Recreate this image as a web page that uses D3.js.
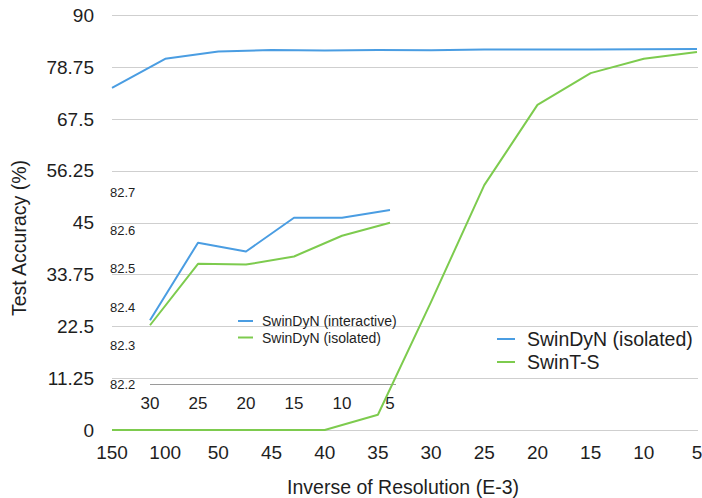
<!DOCTYPE html>
<html>
<head>
<meta charset="utf-8">
<script src="https://cdn.jsdelivr.net/npm/d3@7/dist/d3.min.js"></script>
<style>
  html, body { margin: 0; padding: 0; background: #fff; }
  svg { display: block; font-family: "Liberation Sans", Arial, Helvetica, sans-serif; }
</style>
</head>
<body>
<script>
// ---- data ----
const categories = ["150","100","50","45","40","35","30","25","20","15","10","5"];
const swinDyNIsolated = [74.2, 80.5, 82.1, 82.4, 82.3, 82.4, 82.35, 82.51, 82.51, 82.53, 82.57, 82.6];
const swinTS = [0, 0, 0, 0, 0, 3.3, 27.8, 53.1, 70.5, 77.4, 80.5, 82.0];
const yTicks = [0, 11.25, 22.5, 33.75, 45, 56.25, 67.5, 78.75, 90];

const insetCategories = ["30","25","20","15","10","5"];
const insetInteractive = [82.366, 82.568, 82.545, 82.633, 82.633, 82.653];
const insetIsolated = [82.353, 82.513, 82.511, 82.532, 82.586, 82.62];
const insetTicks = [82.2, 82.3, 82.4, 82.5, 82.6, 82.7];

const mainSeries = [
  { name: "SwinDyN (isolated)", values: swinDyNIsolated, color: "#4a9de2" },
  { name: "SwinT-S", values: swinTS, color: "#7dcb4e" }
];
const insetSeries = [
  { name: "SwinDyN (interactive)", values: insetInteractive, color: "#4a9de2" },
  { name: "SwinDyN (isolated)", values: insetIsolated, color: "#7dcb4e" }
];

// ---- layout ----
const W = 702, H = 498;
const svg = d3.select("body").append("svg").attr("width", W).attr("height", H);

const x = d3.scalePoint().domain(categories).range([112, 697]);
const y = d3.scaleLinear().domain([0, 90]).range([430, 15]);

const xi = d3.scalePoint().domain(insetCategories).range([150, 390]);
const yi = d3.scaleLinear().domain([82.2, 82.7]).range([384, 192]);

const textColor = "#1e1e1e";

// main gridlines
svg.append("g").selectAll("line").data(yTicks).join("line")
  .attr("x1", 112).attr("x2", 698)
  .attr("y1", d => Math.round(y(d)) + 0.5).attr("y2", d => Math.round(y(d)) + 0.5)
  .attr("stroke", "#cfcfcf").attr("stroke-width", 1);

// main y tick labels
svg.append("g").selectAll("text").data(yTicks).join("text")
  .attr("x", 94).attr("y", d => y(d))
  .attr("dy", "0.36em").attr("text-anchor", "end")
  .attr("font-size", 19).attr("fill", textColor)
  .text(d => String(d));

// main x tick labels
svg.append("g").selectAll("text").data(categories).join("text")
  .attr("x", d => x(d)).attr("y", 452)
  .attr("dy", "0.36em").attr("text-anchor", "middle")
  .attr("font-size", 19).attr("fill", textColor)
  .text(d => d);

// axis titles
svg.append("text")
  .attr("transform", "translate(26,238) rotate(-90)")
  .attr("text-anchor", "middle").attr("font-size", 19.5).attr("fill", textColor)
  .text("Test Accuracy (%)");
svg.append("text")
  .attr("x", 403).attr("y", 494)
  .attr("text-anchor", "middle").attr("font-size", 19.5).attr("fill", textColor)
  .text("Inverse of Resolution (E-3)");

// ---- inset ----
// inset baseline
svg.append("line")
  .attr("x1", 150).attr("x2", 396)
  .attr("y1", Math.round(yi(82.2)) + 0.5).attr("y2", Math.round(yi(82.2)) + 0.5)
  .attr("stroke", "#9a9a9a").attr("stroke-width", 1);

// inset y tick labels
svg.append("g").selectAll("text").data(insetTicks).join("text")
  .attr("x", 110).attr("y", d => yi(d))
  .attr("dy", "0.36em").attr("text-anchor", "start")
  .attr("font-size", 13).attr("fill", textColor)
  .text(d => d.toFixed(1));

// inset x tick labels
svg.append("g").selectAll("text").data(insetCategories).join("text")
  .attr("x", d => xi(d)).attr("y", 403)
  .attr("dy", "0.36em").attr("text-anchor", "middle")
  .attr("font-size", 17).attr("fill", textColor)
  .text(d => d);

// inset lines
const lineI = d3.line().x((d, i) => xi(insetCategories[i])).y(d => yi(d));
svg.append("g").selectAll("path").data(insetSeries).join("path")
  .attr("d", s => lineI(s.values))
  .attr("fill", "none").attr("stroke", s => s.color).attr("stroke-width", 2)
  .attr("stroke-linejoin", "round");

// inset legend
const legI = svg.append("g").selectAll("g").data(insetSeries).join("g")
  .attr("transform", (s, i) => `translate(0,${321 + i * 16.5})`);
legI.append("line").attr("x1", 238).attr("x2", 253).attr("y1", 0).attr("y2", 0)
  .attr("stroke", s => s.color).attr("stroke-width", 2);
legI.append("text").attr("x", 262).attr("y", 0).attr("dy", "0.36em")
  .attr("font-size", 14).attr("fill", textColor).text(s => s.name);

// ---- main lines ----
const lineM = d3.line().x((d, i) => x(categories[i])).y(d => y(d));
svg.append("g").selectAll("path").data(mainSeries).join("path")
  .attr("d", s => lineM(s.values))
  .attr("fill", "none").attr("stroke", s => s.color).attr("stroke-width", 2)
  .attr("stroke-linejoin", "round");

// main legend
const legM = svg.append("g").selectAll("g").data(mainSeries).join("g")
  .attr("transform", (s, i) => `translate(0,${339 + i * 23})`);
legM.append("line").attr("x1", 497).attr("x2", 515).attr("y1", 0).attr("y2", 0)
  .attr("stroke", s => s.color).attr("stroke-width", 2);
legM.append("text").attr("x", 527).attr("y", 0).attr("dy", "0.36em")
  .attr("font-size", 19.5).attr("fill", textColor).text(s => s.name);
</script>
</body>
</html>
